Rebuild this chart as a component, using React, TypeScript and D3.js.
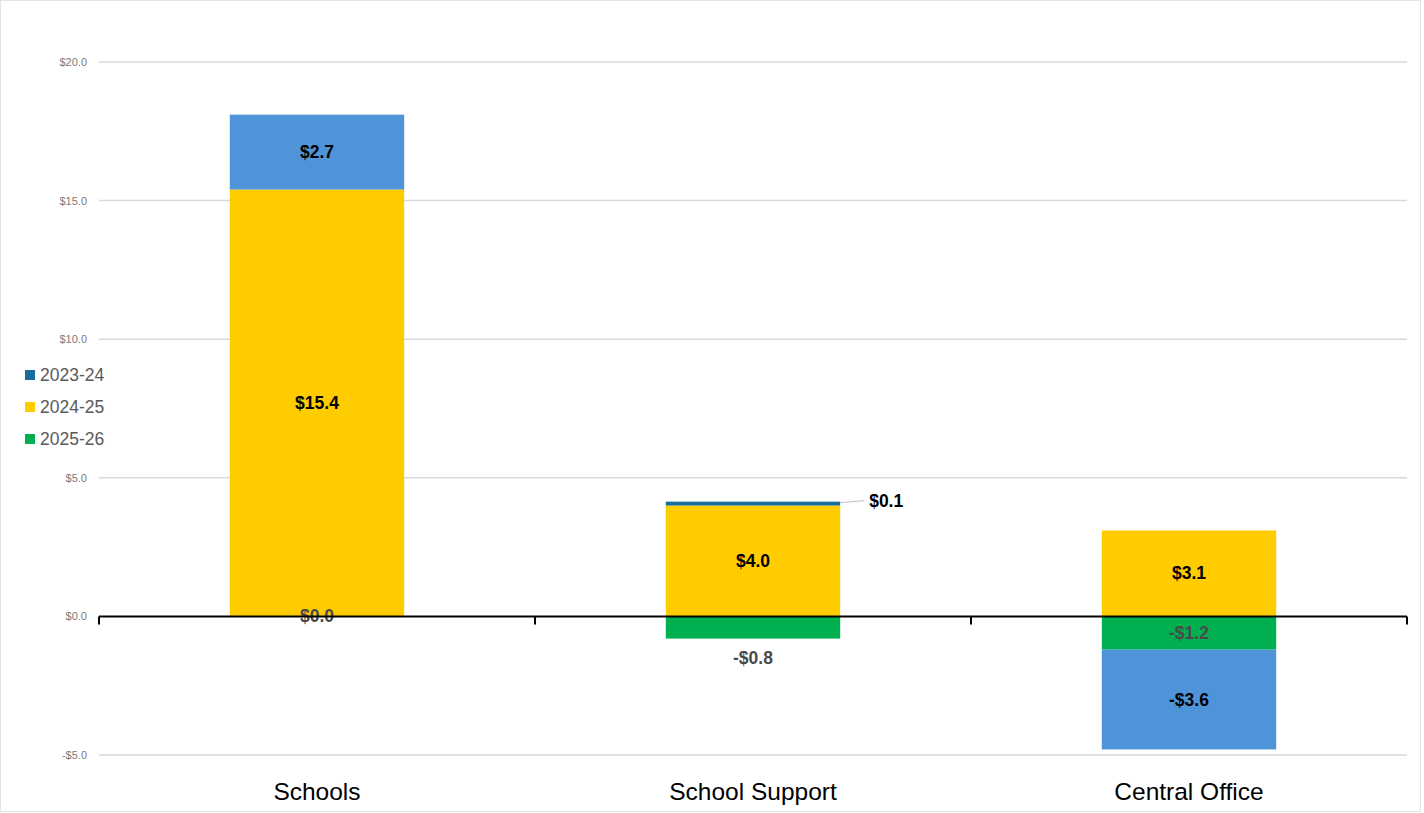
import React from "react";
import * as d3 from "d3";

const categories = ["Schools", "School Support", "Central Office"];
const seriesNames = ["2025-26", "2024-25", "2023-24"]; // stacking order (bottom first)
const values2025_26 = [0.0, -0.8, -1.2];
const values2024_25 = [15.4, 4.0, 3.1];
const values2023_24 = [2.7, 0.14, -3.6];
const yTicks = [-5, 0, 5, 10, 15, 20];
const legendItems = ["2023-24", "2024-25", "2025-26"];

const W = 1424;
const H = 813;
const FONT = "'Liberation Sans', Arial, sans-serif";

const seriesColor: Record<string, string> = {
  "2023-24": "#176d9c",
  "2024-25": "#ffcc00",
  "2025-26": "#00b050",
};
// point colour overrides for 2023-24 (light blue on some categories)
const pointColor = (series: string, cat: string) => {
  if (series === "2023-24" && cat !== "School Support") return "#4f94d8";
  return seriesColor[series];
};
const labelColor: Record<string, string> = {
  "2023-24": "#000000",
  "2024-25": "#000000",
  "2025-26": "#4a4a4a",
};

export default function App() {
  const rows = categories.map((c, i) => ({
    cat: c,
    "2025-26": values2025_26[i],
    "2024-25": values2024_25[i],
    "2023-24": values2023_24[i],
  }));
  const stack = d3
    .stack<any>()
    .keys(seriesNames)
    .offset(d3.stackOffsetDiverging);
  const stacked = stack(rows);

  const x = d3
    .scaleBand<string>()
    .domain(categories)
    .range([99, 1407])
    .paddingInner(0.6)
    .paddingOuter(0.3);
  const y = d3.scaleLinear().domain([-5, 20]).range([755, 62]);
  const x0 = 99;
  const x1 = 1407;
  const step = x.step();
  const fmt = (v: number) => (v < 0 ? "-$" : "$") + Math.abs(v).toFixed(1);

  const bars: any[] = [];
  const labels: any[] = [];
  stacked.forEach((s) => {
    const key = s.key;
    s.forEach((d, i) => {
      const cat = categories[i];
      const v = (rows[i] as any)[key] as number;
      const top = y(Math.max(d[0], d[1]));
      const bot = y(Math.min(d[0], d[1]));
      const bx = x(cat)!;
      bars.push(
        <rect
          key={key + cat}
          x={bx}
          y={top}
          width={x.bandwidth()}
          height={Math.max(0, bot - top)}
          fill={pointColor(key, cat)}
        />
      );
      const h = bot - top;
      let lx = bx + x.bandwidth() / 2;
      let ly = (top + bot) / 2;
      let leader = null;
      if (h > 0 && h < 8) {
        // tiny segment: label to the right with leader line
        lx = bx + x.bandwidth() + 46;
        ly = top - 0.5;
        leader = (
          <line
            key={"ld" + key + cat}
            x1={bx + x.bandwidth()}
            y1={top + 1}
            x2={bx + x.bandwidth() + 24}
            y2={top - 1}
            stroke="#bfbfbf"
            strokeWidth={1}
          />
        );
      } else if (v < 0 && key === "2025-26" && h < 30) {
        ly = bot + 19;
      }
      if (leader) labels.push(leader);
      labels.push(
        <text
          key={"l" + key + cat}
          x={lx}
          y={ly}
          textAnchor="middle"
          dominantBaseline="central"
          fontFamily={FONT}
          fontWeight="bold"
          fontSize={17.5}
          fill={labelColor[key]}
        >
          {fmt(v)}
        </text>
      );
    });
  });

  return (
    <svg
      width={W}
      height={H}
      style={{ position: "absolute", left: 0, top: 0, background: "#fff" }}
    >
      <rect x={0.5} y={0.5} width={W - 4} height={H - 2} fill="#fff" stroke="#e3e3e3" strokeWidth={1} />
      {yTicks.map((t) => (
        <g key={t}>
          {t !== 0 && (
            <line x1={x0} x2={x1} y1={y(t)} y2={y(t)} stroke="#d9d9d9" strokeWidth={1.5} />
          )}
          <text
            x={87}
            y={y(t)}
            textAnchor="end"
            dominantBaseline="central"
            fontFamily={FONT}
            fontSize={11}
            fill="#7a7a7a"
          >
            {(t < 0 ? "-$" : "$") + Math.abs(t).toFixed(1)}
          </text>
        </g>
      ))}
      {bars}
      {labels}
      <line x1={x0} x2={x1} y1={y(0)} y2={y(0)} stroke="#000" strokeWidth={2} />
      {d3.range(categories.length + 1).map((i) => (
        <line
          key={"tk" + i}
          x1={x0 + i * step}
          x2={x0 + i * step}
          y1={y(0)}
          y2={y(0) + 8}
          stroke="#000"
          strokeWidth={2}
        />
      ))}
      {categories.map((c) => (
        <text
          key={"c" + c}
          x={x(c)! + x.bandwidth() / 2}
          y={791}
          textAnchor="middle"
          dominantBaseline="central"
          fontFamily={FONT}
          fontSize={24.5}
          fill="#000"
        >
          {c}
        </text>
      ))}
      {legendItems.map((s, i) => (
        <g key={"lg" + s}>
          <rect x={25} y={370 + i * 32} width={10} height={10} fill={seriesColor[s]} />
          <text
            x={40}
            y={375 + i * 32}
            dominantBaseline="central"
            fontFamily={FONT}
            fontSize={17.5}
            fill="#595959"
          >
            {s}
          </text>
        </g>
      ))}
    </svg>
  );
}
